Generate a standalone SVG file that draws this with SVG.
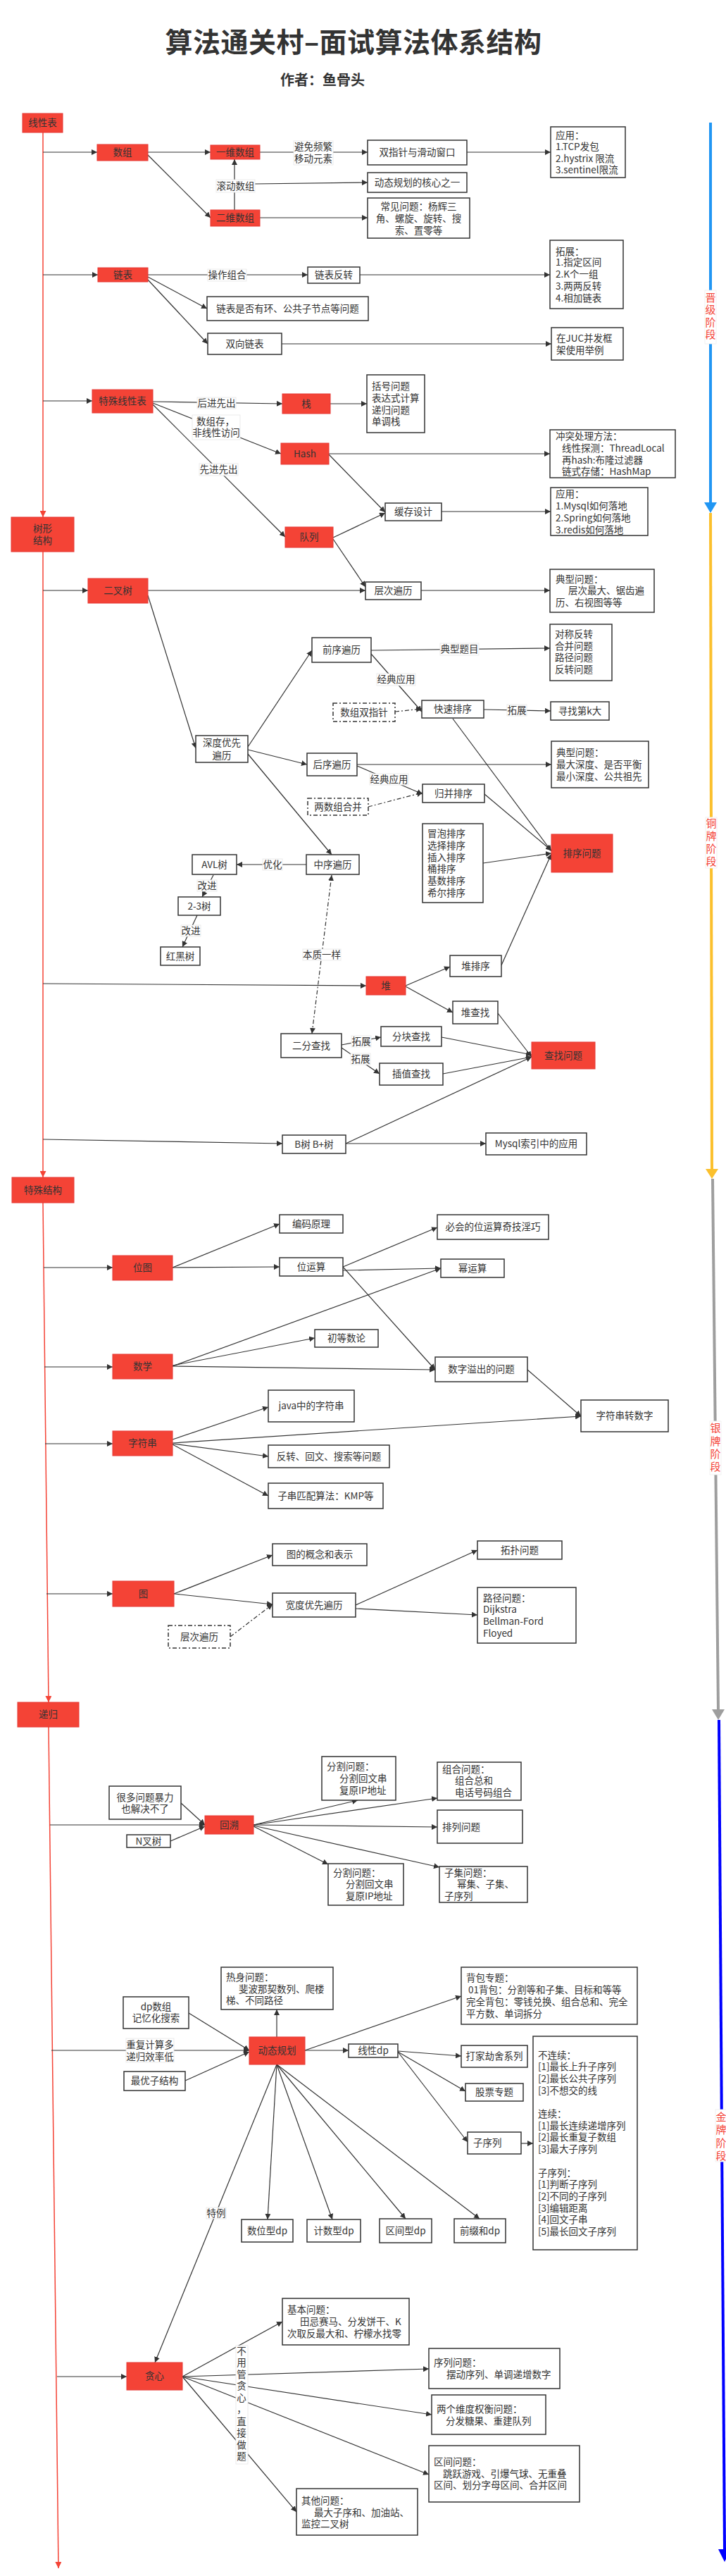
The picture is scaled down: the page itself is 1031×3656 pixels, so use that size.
<svg xmlns="http://www.w3.org/2000/svg" width="1031" height="3656" viewBox="0 0 1031 3656">
<style>
text{font-family:"Noto Sans CJK SC","Noto Sans",sans-serif;font-size:13.5px;fill:#333}
.c{text-anchor:middle}
.b rect{fill:#fff;stroke:#333;stroke-width:1.5}
.r rect{fill:#f44336;stroke:#e53935;stroke-width:1}
.dd rect{fill:#fff;stroke:#333;stroke-width:1.5;stroke-dasharray:6 3 2 3}
.e{stroke:#333;stroke-width:1.2;fill:none;marker-end:url(#ah)}
.ed{stroke:#333;stroke-width:1.2;fill:none;stroke-dasharray:6 3 2 3;marker-end:url(#ah)}
.m{stroke:#f44336;stroke-width:1.5;fill:none;marker-end:url(#rh)}
.lb rect{fill:#fff;stroke:#e6e6e6;stroke-width:0.8}
.st text{fill:#f44336;font-size:15px;text-anchor:middle}
.st rect{fill:#fff;stroke:#eee;stroke-width:0.8}
</style>
<defs>
<marker id="ah" viewBox="0 0 10 10" refX="10" refY="5" markerWidth="8" markerHeight="8" markerUnits="userSpaceOnUse" orient="auto-start-reverse"><path d="M0,0 L10,5 L0,10 z" fill="#333"/></marker>
<marker id="rh" viewBox="0 0 10 10" refX="10" refY="5" markerWidth="12" markerHeight="9" markerUnits="userSpaceOnUse" orient="auto"><path d="M0,0 L10,5 L0,10 z" fill="#f44336"/></marker>
</defs>
<rect x="0" y="0" width="1031" height="3656" fill="#fff"/>
<g id="title">
<text x="502" y="74" class="c" style="font-size:39px;font-weight:bold;letter-spacing:0.5px">算法通关村–面试算法体系结构</text>
<text x="458" y="121" class="c" style="font-size:20px;font-weight:bold">作者：鱼骨头</text>
</g>

<g id="stages">
<line x1="1009" y1="174" x2="1009" y2="715" stroke="#2196f3" stroke-width="4"/>
<polygon points="1000,713 1018,713 1009,728" fill="#2196f3"/>
<line x1="1009" y1="728" x2="1011" y2="1660" stroke="#fbc02d" stroke-width="4"/>
<polygon points="1002,1659 1020,1659 1011,1673" fill="#fbc02d"/>
<line x1="1012" y1="1673" x2="1020" y2="2427" stroke="#9e9e9e" stroke-width="4"/>
<polygon points="1011,2426 1029,2426 1020,2441" fill="#9e9e9e"/>
<line x1="1021" y1="2441" x2="1029" y2="3620" stroke="#0000ff" stroke-width="4"/>
<polygon points="1020,3618 1038,3618 1029,3636" fill="#0000ff"/>
<g class="st">
<rect x="1001" y="412" width="16" height="76"/>
<text x="1009" y="428">晋</text><text x="1009" y="445">级</text><text x="1009" y="463">阶</text><text x="1009" y="480">段</text>
<rect x="1002" y="1160" width="16" height="72"/>
<text x="1010" y="1174">铜</text><text x="1010" y="1192">牌</text><text x="1010" y="1210">阶</text><text x="1010" y="1228">段</text>
<rect x="1008" y="2017" width="16" height="76"/>
<text x="1016" y="2032">银</text><text x="1016" y="2051">牌</text><text x="1016" y="2069">阶</text><text x="1016" y="2087">段</text>
<rect x="1016" y="2994" width="16" height="74"/>
<text x="1024" y="3010">金</text><text x="1024" y="3028">牌</text><text x="1024" y="3047">阶</text><text x="1024" y="3065">段</text>
</g>
</g>

<g id="connectors">
<path class="m" d="M61,188 L61,734"/>
<path class="m" d="M61,783 L61,1671"/>
<path class="m" d="M61,1707 L69,2416"/>
<path class="m" d="M69,2451 L83,3645"/>

<path class="e" d="M61,216 L138,216"/>
<path class="e" d="M210,216 L299,216"/>
<path class="e" d="M210,220 L299,309"/>
<path class="e" d="M369,216 L522,216"/>
<path class="e" d="M663,216 L782,216"/>
<path class="e" d="M333,298 L333,226"/>
<path class="e" d="M361,261 L522,259"/>
<path class="e" d="M369,309 L522,309"/>
<path class="e" d="M61,390 L139,390"/>
<path class="e" d="M210,390 L437,390"/>
<path class="e" d="M511,390 L781,390"/>
<path class="e" d="M210,393 L294,438"/>
<path class="e" d="M210,397 L295,488"/>
<path class="e" d="M400,488 L783,488"/>
<path class="e" d="M61,569 L131,569"/>
<path class="e" d="M217,570 L401,573"/>
<path class="e" d="M469,573 L521,573"/>
<path class="e" d="M217,572 L399,644"/>
<path class="e" d="M217,574 L405,762"/>
<path class="e" d="M467,644 L781,644"/>
<path class="e" d="M467,645 L547,727"/>
<path class="e" d="M473,763 L547,728"/>
<path class="e" d="M627,726 L782,726"/>
<path class="e" d="M473,765 L519,833"/>
<path class="e" d="M61,838 L125,838"/>
<path class="e" d="M210,838 L519,838"/>
<path class="e" d="M598,838 L781,838"/>
<path class="e" d="M210,845 L278,1062"/>
<path class="e" d="M352,1060 L443,923"/>
<path class="e" d="M527,923 L781,920"/>
<path class="e" d="M527,928 L599,1010"/>
<path class="ed" d="M561,1010 L599,1006"/>
<path class="e" d="M687,1007 L782,1009"/>
<path class="e" d="M643,1020 L783,1208"/>
<path class="e" d="M352,1064 L436,1085"/>
<path class="e" d="M507,1085 L783,1085"/>
<path class="e" d="M507,1087 L600,1127"/>
<path class="ed" d="M523,1145 L600,1125"/>
<path class="e" d="M688,1127 L783,1207"/>
<path class="e" d="M352,1070 L471,1213"/>
<path class="e" d="M686,1225 L783,1211"/>
<path class="e" d="M435,1227 L336,1227"/>
<path class="e" d="M303,1242 L287,1273"/>
<path class="e" d="M280,1299 L259,1344"/>
<path class="ed" d="M443,1467 L471,1242" marker-start="url(#ah)"/>
<path class="e" d="M712,1370 L783,1212"/>
<path class="e" d="M61,1396 L520,1399"/>
<path class="e" d="M576,1399 L639,1372"/>
<path class="e" d="M576,1400 L643,1437"/>
<path class="e" d="M707,1438 L755,1500"/>
<path class="e" d="M485,1483 L541,1472"/>
<path class="e" d="M627,1472 L755,1497"/>
<path class="e" d="M485,1487 L539,1524"/>
<path class="e" d="M629,1524 L755,1500"/>
<path class="e" d="M61,1617 L401,1623"/>
<path class="e" d="M491,1623 L755,1500"/>
<path class="e" d="M491,1623 L690,1623"/>
<path class="e" d="M62,1799 L160,1799"/>
<path class="e" d="M245,1799 L397,1737"/>
<path class="e" d="M245,1799 L397,1798"/>
<path class="e" d="M487,1798 L621,1742"/>
<path class="e" d="M487,1803 L626,1800"/>
<path class="e" d="M487,1798 L618,1944"/>
<path class="e" d="M63,1940 L160,1940"/>
<path class="e" d="M245,1939 L626,1800"/>
<path class="e" d="M245,1938 L447,1899"/>
<path class="e" d="M245,1939 L618,1944"/>
<path class="e" d="M749,1944 L825,2010"/>
<path class="e" d="M64,2049 L160,2049"/>
<path class="e" d="M245,2043 L381,1997"/>
<path class="e" d="M245,2048 L825,2010"/>
<path class="e" d="M245,2049 L381,2067"/>
<path class="e" d="M245,2050 L381,2123"/>
<path class="e" d="M66,2262 L160,2262"/>
<path class="e" d="M247,2262 L387,2207"/>
<path class="e" d="M247,2262 L387,2277"/>
<path class="ed" d="M327,2323 L387,2277"/>
<path class="e" d="M505,2278 L678,2200"/>
<path class="e" d="M505,2283 L678,2292"/>
<path class="e" d="M71,2590 L291,2590"/>
<path class="e" d="M257,2559 L291,2590"/>
<path class="e" d="M242,2613 L291,2592"/>
<path class="e" d="M360,2590 L508,2555"/>
<path class="e" d="M360,2590 L621,2552"/>
<path class="e" d="M360,2590 L621,2593"/>
<path class="e" d="M360,2592 L466,2646"/>
<path class="e" d="M360,2591 L624,2650"/>
<path class="e" d="M73,2910 L354,2910"/>
<path class="e" d="M268,2857 L354,2910"/>
<path class="e" d="M263,2953 L354,2912"/>
<path class="e" d="M393,2891 L393,2852"/>
<path class="e" d="M433,2910 L655,2833"/>
<path class="e" d="M433,2910 L495,2910"/>
<path class="e" d="M565,2911 L655,2918"/>
<path class="e" d="M565,2912 L661,2968"/>
<path class="e" d="M565,2912 L664,3040"/>
<path class="e" d="M740,3042 L757,3042"/>
<path class="e" d="M393,2930 L380,3150"/>
<path class="e" d="M393,2930 L472,3150"/>
<path class="e" d="M393,2930 L576,3149"/>
<path class="e" d="M393,2930 L681,3149"/>
<path class="e" d="M393,2930 L220,3353"/>
<path class="e" d="M81,3373 L180,3373"/>
<path class="e" d="M259,3373 L401,3295"/>
<path class="e" d="M259,3373 L609,3362"/>
<path class="e" d="M259,3373 L613,3427"/>
<path class="e" d="M259,3373 L609,3512"/>
<path class="e" d="M259,3373 L421,3565"/>

<g class="lb">
<rect x="417" y="200" width="56" height="34"/><text class="c" x="445" y="212.5">避免频繁</text><text class="c" x="445" y="229.5">移动元素</text>
<rect x="307" y="255" width="55" height="18"/><text class="c" x="334.5" y="268.5">滚动数组</text>
<rect x="295" y="382" width="55" height="17"/><text class="c" x="322.5" y="395">操作组合</text>
<rect x="280" y="564" width="55" height="16"/><text class="c" x="307.5" y="576.5">后进先出</text>
<rect x="273" y="589" width="68" height="35"/><text x="279" y="602.5">数组存，</text><text class="c" x="307" y="619">非线性访问</text>
<rect x="283" y="658" width="55" height="17"/><text class="c" x="310.5" y="671">先进先出</text>
<rect x="625" y="913" width="55" height="17"/><text class="c" x="652.5" y="926">典型题目</text>
<rect x="535" y="956" width="55" height="17"/><text class="c" x="562.5" y="969">经典应用</text>
<rect x="720" y="1000" width="28" height="16"/><text class="c" x="734" y="1012.5">拓展</text>
<rect x="525" y="1098" width="55" height="16"/><text class="c" x="552.5" y="1110.5">经典应用</text>
<rect x="373" y="1219" width="28" height="16"/><text class="c" x="387" y="1231.5">优化</text>
<rect x="280" y="1249" width="28" height="16"/><text class="c" x="294" y="1261.5">改进</text>
<rect x="257" y="1313" width="28" height="16"/><text class="c" x="271" y="1325.5">改进</text>
<rect x="430" y="1347" width="54" height="16"/><text class="c" x="457" y="1359.5">本质一样</text>
<rect x="499" y="1470" width="28" height="16"/><text class="c" x="513" y="1482.5">拓展</text>
<rect x="498" y="1495" width="28" height="16"/><text class="c" x="512" y="1507.5">拓展</text>
<rect x="179" y="2893" width="68" height="34"/><text class="c" x="213" y="2906.5">重复计算多</text><text class="c" x="213" y="2923.5">递归效率低</text>
<rect x="293" y="3133" width="28" height="16"/><text class="c" x="307" y="3145.5">特例</text>
<rect x="335" y="3329" width="17" height="168"/>
<text class="c" x="343" y="3341.5">不</text><text class="c" x="343" y="3358">用</text><text class="c" x="343" y="3374.5">管</text><text class="c" x="343" y="3391">贪</text><text class="c" x="343" y="3407.5">心</text><text class="c" x="343" y="3424">，</text><text class="c" x="343" y="3441.5">直</text><text class="c" x="343" y="3458">接</text><text class="c" x="343" y="3474.5">做</text><text class="c" x="343" y="3491">题</text>
</g>
</g>

<g id="n1" class="r"><rect x="32" y="161" width="57" height="27"/><text class="c" x="60.5" y="179">线性表</text></g>
<g id="n2" class="r"><rect x="138" y="205" width="72" height="23"/><text class="c" x="174" y="221">数组</text></g>
<g id="n3" class="r"><rect x="299" y="206" width="70" height="20"/><text class="c" x="334" y="220.5">一维数组</text></g>
<g id="n4" class="r"><rect x="299" y="298" width="70" height="23"/><text class="c" x="334" y="314">二维数组</text></g>
<g id="n5" class="b"><rect x="522" y="199" width="141" height="35"/><text class="c" x="592.5" y="221">双指针与滑动窗口</text></g>
<g id="n6" class="b"><rect x="522" y="245" width="141" height="28"/><text class="c" x="592.5" y="263.5">动态规划的核心之一</text></g>
<g id="n7" class="b"><rect x="522" y="281" width="145" height="57"/><text class="c" x="594.5" y="297.5">常见问题：杨辉三</text><text class="c" x="594.5" y="314.5">角、螺旋、旋转、搜</text><text class="c" x="594.5" y="331.5">索、置零等</text></g>
<g id="n8" class="b"><rect x="782" y="180" width="106" height="72"/><text x="789" y="196.5">应用：</text><text x="789" y="212.5">1.TCP发包</text><text x="789" y="229.5">2.hystrix 限流</text><text x="789" y="245.5">3.sentinel限流</text></g>
<g id="n9" class="r"><rect x="139" y="380" width="71" height="20"/><text class="c" x="174.5" y="394.5">链表</text></g>
<g id="n10" class="b"><rect x="437" y="379" width="74" height="23"/><text class="c" x="474" y="395">链表反转</text></g>
<g id="n11" class="b"><rect x="781" y="341" width="104" height="97"/><text x="789" y="361.5">拓展：</text><text x="789" y="376.5">1.指定区间</text><text x="789" y="393.5">2.K个一组</text><text x="789" y="410.5">3.两两反转</text><text x="789" y="427.5">4.相加链表</text></g>
<g id="n12" class="b"><rect x="294" y="421" width="229" height="34"/><text class="c" x="408.5" y="442.5">链表是否有环、公共子节点等问题</text></g>
<g id="n13" class="b"><rect x="295" y="473" width="105" height="30"/><text class="c" x="347.5" y="492.5">双向链表</text></g>
<g id="n14" class="b"><rect x="783" y="465" width="102" height="46"/><text x="790" y="484.5">在JUC并发框</text><text x="790" y="501.5">架使用举例</text></g>
<g id="n15" class="r"><rect x="131" y="553" width="86" height="33"/><text class="c" x="174" y="574">特殊线性表</text></g>
<g id="n16" class="r"><rect x="401" y="559" width="68" height="28"/><text class="c" x="435" y="577.5">栈</text></g>
<g id="n17" class="b"><rect x="521" y="532" width="82" height="82"/><text x="528" y="552.5">括号问题</text><text x="528" y="569.5">表达式计算</text><text x="528" y="586.5">递归问题</text><text x="528" y="602.5">单调栈</text></g>
<g id="n18" class="r"><rect x="399" y="629" width="68" height="30"/><text class="c" x="433" y="648.5">Hash</text></g>
<g id="n19" class="b"><rect x="781" y="610" width="178" height="68"/><text x="789" y="623.5">冲突处理方法：</text><text x="798" y="640.5">线性探测：ThreadLocal</text><text x="798" y="657.5">再hash:布隆过滤器</text><text x="798" y="673.5">链式存储：HashMap</text></g>
<g id="n20" class="b"><rect x="547" y="714" width="80" height="25"/><text class="c" x="587" y="731">缓存设计</text></g>
<g id="n21" class="b"><rect x="782" y="692" width="138" height="68"/><text x="789" y="705.5">应用：</text><text x="789" y="722.5">1.Mysql如何落地</text><text x="789" y="739.5">2.Spring如何落地</text><text x="789" y="756.5">3.redis如何落地</text></g>
<g id="n22" class="r"><rect x="16" y="734" width="89" height="49"/><text class="c" x="60.5" y="754.5">树形</text><text class="c" x="60.5" y="771.5">结构</text></g>
<g id="n23" class="r"><rect x="405" y="748" width="68" height="29"/><text class="c" x="439" y="767">队列</text></g>
<g id="n24" class="b"><rect x="519" y="826" width="79" height="25"/><text class="c" x="558.5" y="843">层次遍历</text></g>
<g id="n25" class="r"><rect x="125" y="821" width="85" height="35"/><text class="c" x="167.5" y="843">二叉树</text></g>
<g id="n26" class="b"><rect x="781" y="808" width="148" height="61"/><text x="789" y="826.5">典型问题：</text><text x="807" y="842.5">层次最大、锯齿遍</text><text x="789" y="859.5">历、右视图等等</text></g>
<g id="n27" class="b"><rect x="781" y="886" width="88" height="80"/><text x="788" y="904.5">对称反转</text><text x="788" y="921.5">合并问题</text><text x="788" y="937.5">路径问题</text><text x="788" y="954.5">反转问题</text></g>
<g id="n28" class="b"><rect x="443" y="905" width="84" height="35"/><text class="c" x="485" y="927">前序遍历</text></g>
<g id="n29" class="b"><rect x="599" y="994" width="88" height="25"/><text class="c" x="643" y="1011">快速排序</text></g>
<g id="n30" class="dd"><rect x="473" y="998" width="88" height="26"/><text class="c" x="517" y="1015.5">数组双指针</text></g>
<g id="n31" class="b"><rect x="782" y="996" width="83" height="26"/><text class="c" x="823.5" y="1013.5">寻找第k大</text></g>
<g id="n32" class="b"><rect x="278" y="1044" width="74" height="38"/><text class="c" x="315" y="1058.5">深度优先</text><text class="c" x="315" y="1076.5">遍历</text></g>
<g id="n33" class="b"><rect x="436" y="1069" width="71" height="32"/><text class="c" x="471.5" y="1089.5">后序遍历</text></g>
<g id="n34" class="b"><rect x="783" y="1052" width="138" height="66"/><text x="790" y="1072.5">典型问题：</text><text x="790" y="1089.5">最大深度、是否平衡</text><text x="790" y="1106.5">最小深度、公共祖先</text></g>
<g id="n35" class="b"><rect x="600" y="1113" width="88" height="26"/><text class="c" x="644" y="1130.5">归并排序</text></g>
<g id="n36" class="dd"><rect x="437" y="1133" width="86" height="24"/><text class="c" x="480" y="1149.5">两数组合并</text></g>
<g id="n37" class="b"><rect x="600" y="1169" width="86" height="112"/><text x="607" y="1187.5">冒泡排序</text><text x="607" y="1204.5">选择排序</text><text x="607" y="1221.5">插入排序</text><text x="607" y="1237.5">桶排序</text><text x="607" y="1254.5">基数排序</text><text x="607" y="1271.5">希尔排序</text></g>
<g id="n38" class="r"><rect x="783" y="1184" width="87" height="54"/><text class="c" x="826.5" y="1215.5">排序问题</text></g>
<g id="n39" class="b"><rect x="435" y="1213" width="75" height="28"/><text class="c" x="472.5" y="1231.5">中序遍历</text></g>
<g id="n40" class="b"><rect x="273" y="1213" width="63" height="28"/><text class="c" x="304.5" y="1231.5">AVL树</text></g>
<g id="n41" class="b"><rect x="253" y="1273" width="60" height="26"/><text class="c" x="283" y="1290.5">2-3树</text></g>
<g id="n42" class="b"><rect x="228" y="1344" width="56" height="26"/><text class="c" x="256" y="1361.5">红黑树</text></g>
<g id="n43" class="b"><rect x="639" y="1356" width="73" height="30"/><text class="c" x="675.5" y="1375.5">堆排序</text></g>
<g id="n44" class="r"><rect x="520" y="1386" width="56" height="26"/><text class="c" x="548" y="1403.5">堆</text></g>
<g id="n45" class="b"><rect x="643" y="1421" width="64" height="32"/><text class="c" x="675" y="1441.5">堆查找</text></g>
<g id="n46" class="r"><rect x="755" y="1479" width="90" height="38"/><text class="c" x="800" y="1502.5">查找问题</text></g>
<g id="n47" class="b"><rect x="399" y="1467" width="86" height="34"/><text class="c" x="442" y="1488.5">二分查找</text></g>
<g id="n48" class="b"><rect x="541" y="1457" width="86" height="28"/><text class="c" x="584" y="1475.5">分块查找</text></g>
<g id="n49" class="b"><rect x="539" y="1509" width="90" height="31"/><text class="c" x="584" y="1529">插值查找</text></g>
<g id="n50" class="b"><rect x="401" y="1611" width="90" height="26"/><text class="c" x="446" y="1628.5">B树 B+树</text></g>
<g id="n51" class="b"><rect x="690" y="1608" width="143" height="31"/><text class="c" x="761.5" y="1628">Mysql索引中的应用</text></g>
<g id="n52" class="r"><rect x="17" y="1671" width="88" height="36"/><text class="c" x="61" y="1693.5">特殊结构</text></g>
<g id="n53" class="b"><rect x="397" y="1724" width="90" height="26"/><text class="c" x="442" y="1741.5">编码原理</text></g>
<g id="n54" class="r"><rect x="160" y="1782" width="85" height="35"/><text class="c" x="202.5" y="1804">位图</text></g>
<g id="n55" class="b"><rect x="397" y="1785" width="90" height="26"/><text class="c" x="442" y="1802.5">位运算</text></g>
<g id="n56" class="b"><rect x="621" y="1724" width="158" height="35"/><text class="c" x="700" y="1746">必会的位运算奇技淫巧</text></g>
<g id="n57" class="b"><rect x="626" y="1787" width="90" height="26"/><text class="c" x="671" y="1804.5">幂运算</text></g>
<g id="n58" class="r"><rect x="160" y="1922" width="85" height="35"/><text class="c" x="202.5" y="1944">数学</text></g>
<g id="n59" class="b"><rect x="447" y="1887" width="90" height="25"/><text class="c" x="492" y="1904">初等数论</text></g>
<g id="n60" class="b"><rect x="618" y="1926" width="131" height="35"/><text class="c" x="683.5" y="1948">数字溢出的问题</text></g>
<g id="n61" class="b"><rect x="825" y="1987" width="124" height="45"/><text class="c" x="887" y="2014">字符串转数字</text></g>
<g id="n62" class="r"><rect x="160" y="2031" width="85" height="35"/><text class="c" x="202.5" y="2053">字符串</text></g>
<g id="n63" class="b"><rect x="381" y="1973" width="122" height="45"/><text class="c" x="442" y="2000">java中的字符串</text></g>
<g id="n64" class="b"><rect x="381" y="2051" width="172" height="32"/><text class="c" x="467" y="2071.5">反转、回文、搜索等问题</text></g>
<g id="n65" class="b"><rect x="381" y="2105" width="163" height="36"/><text class="c" x="462.5" y="2127.5">子串匹配算法：KMP等</text></g>
<g id="n66" class="r"><rect x="160" y="2244" width="87" height="36"/><text class="c" x="203.5" y="2266.5">图</text></g>
<g id="n67" class="b"><rect x="387" y="2191" width="134" height="31"/><text class="c" x="454" y="2211">图的概念和表示</text></g>
<g id="n68" class="b"><rect x="387" y="2261" width="118" height="34"/><text class="c" x="446" y="2282.5">宽度优先遍历</text></g>
<g id="n69" class="dd"><rect x="239" y="2307" width="88" height="32"/><text class="c" x="283" y="2327.5">层次遍历</text></g>
<g id="n70" class="b"><rect x="678" y="2187" width="120" height="26"/><text class="c" x="738" y="2204.5">拓扑问题</text></g>
<g id="n71" class="b"><rect x="678" y="2253" width="140" height="79"/><text x="686" y="2272.5">路径问题：</text><text x="686" y="2288.5">Dijkstra</text><text x="686" y="2305.5">Bellman-Ford</text><text x="686" y="2322.5">Floyed</text></g>
<g id="n72" class="r"><rect x="25" y="2416" width="87" height="35"/><text class="c" x="68.5" y="2438">递归</text></g>
<g id="n73" class="b"><rect x="155" y="2535" width="102" height="47"/><text class="c" x="206" y="2555.5">很多问题暴力</text><text class="c" x="206" y="2571.5">也解决不了</text></g>
<g id="n74" class="b"><rect x="180" y="2604" width="62" height="18"/><text class="c" x="211" y="2617.5">N叉树</text></g>
<g id="n75" class="r"><rect x="291" y="2577" width="69" height="26"/><text class="c" x="325.5" y="2594.5">回溯</text></g>
<g id="n76" class="b"><rect x="457" y="2493" width="105" height="62"/><text x="464" y="2511.5">分割问题：</text><text x="482" y="2528.5">分割回文串</text><text x="482" y="2545.5">复原IP地址</text></g>
<g id="n77" class="b"><rect x="621" y="2501" width="119" height="54"/><text x="628" y="2515.5">组合问题：</text><text x="646" y="2531.5">组合总和</text><text x="646" y="2548.5">电话号码组合</text></g>
<g id="n78" class="b"><rect x="621" y="2569" width="121" height="47"/><text x="628" y="2597.5">排列问题</text></g>
<g id="n79" class="b"><rect x="466" y="2645" width="107" height="59"/><text x="473" y="2662.5">分割问题：</text><text x="491" y="2678.5">分割回文串</text><text x="491" y="2695.5">复原IP地址</text></g>
<g id="n80" class="b"><rect x="624" y="2649" width="125" height="51"/><text x="631" y="2662.5">子集问题：</text><text x="649" y="2678.5">幂集、子集、</text><text x="631" y="2695.5">子序列</text></g>
<g id="n81" class="b"><rect x="314" y="2792" width="159" height="60"/><text x="321" y="2810.5">热身问题：</text><text x="339" y="2827.5">斐波那契数列、爬楼</text><text x="321" y="2843.5">梯、不同路径</text></g>
<g id="n82" class="b"><rect x="175" y="2834" width="93" height="45"/><text class="c" x="221.5" y="2852.5">dp数组</text><text class="c" x="221.5" y="2868.5">记忆化搜索</text></g>
<g id="n83" class="b"><rect x="176" y="2940" width="87" height="27"/><text class="c" x="219.5" y="2958">最优子结构</text></g>
<g id="n84" class="r"><rect x="354" y="2891" width="79" height="39"/><text class="c" x="393.5" y="2915">动态规划</text></g>
<g id="n85" class="b"><rect x="655" y="2792" width="250" height="81"/><text x="662" y="2811.5">背包专题：</text><text x="665" y="2828.5">01背包：分割等和子集、目标和等等</text><text x="662" y="2845.5">完全背包：零钱兑换、组合总和、完全</text><text x="662" y="2862.5">平方数、单词拆分</text></g>
<g id="n86" class="b"><rect x="495" y="2901" width="70" height="19"/><text class="c" x="530" y="2915">线性dp</text></g>
<g id="n87" class="b"><rect x="655" y="2903" width="94" height="31"/><text class="c" x="702" y="2923">打家劫舍系列</text></g>
<g id="n88" class="b"><rect x="661" y="2957" width="82" height="25"/><text class="c" x="702" y="2974">股票专题</text></g>
<g id="n89" class="b"><rect x="757" y="2890" width="148" height="303"/>
<text x="764" y="2921.5">不连续：</text><text x="764" y="2938.2">[1]最长上升子序列</text><text x="764" y="2954.9">[2]最长公共子序列</text><text x="764" y="2971.6">[3]不想交的线</text>
<text x="764" y="3005">连续：</text><text x="764" y="3021.7">[1]最长连续递增序列</text><text x="764" y="3038.4">[2]最长重复子数组</text><text x="764" y="3055.1">[3]最大子序列</text>
<text x="764" y="3088.5">子序列：</text><text x="764" y="3105.2">[1]判断子序列</text><text x="764" y="3121.9">[2]不同的子序列</text><text x="764" y="3138.6">[3]编辑距离</text><text x="764" y="3155.3">[4]回文子串</text><text x="764" y="3172">[5]最长回文子序列</text></g>
<g id="n90" class="b"><rect x="664" y="3026" width="76" height="31"/><text x="672" y="3046">子序列</text></g>
<g id="n91" class="b"><rect x="343" y="3150" width="73" height="32"/><text class="c" x="379.5" y="3170.5">数位型dp</text></g>
<g id="n92" class="b"><rect x="436" y="3150" width="76" height="32"/><text class="c" x="474" y="3170.5">计数型dp</text></g>
<g id="n93" class="b"><rect x="539" y="3149" width="74" height="34"/><text class="c" x="576" y="3170.5">区间型dp</text></g>
<g id="n94" class="b"><rect x="645" y="3149" width="73" height="34"/><text class="c" x="681.5" y="3170.5">前缀和dp</text></g>
<g id="n95" class="b"><rect x="401" y="3262" width="180" height="66"/><text x="408" y="3282.5">基本问题：</text><text x="426" y="3299.5">田忌赛马、分发饼干、K</text><text x="408" y="3316.5">次取反最大和、柠檬水找零</text></g>
<g id="n96" class="r"><rect x="180" y="3353" width="79" height="39"/><text class="c" x="219.5" y="3377">贪心</text></g>
<g id="n97" class="b"><rect x="609" y="3333" width="186" height="57"/><text x="616" y="3357.5">序列问题：</text><text x="634" y="3374.5">摆动序列、单调递增数字</text></g>
<g id="n98" class="b"><rect x="613" y="3399" width="162" height="56"/><text x="620" y="3423.5">两个维度权衡问题：</text><text x="633" y="3440.5">分发糖果、重建队列</text></g>
<g id="n99" class="b"><rect x="609" y="3471" width="214" height="80"/><text x="616" y="3498.5">区间问题：</text><text x="629" y="3515.5">跳跃游戏、引爆气球、无重叠</text><text x="616" y="3531.5">区间、划分字母区间、合并区间</text></g>
<g id="n100" class="b"><rect x="421" y="3532" width="172" height="66"/><text x="428" y="3553.5">其他问题：</text><text x="446" y="3570.5">最大子序和、加油站、</text><text x="428" y="3586.5">监控二叉树</text></g>
</svg>
